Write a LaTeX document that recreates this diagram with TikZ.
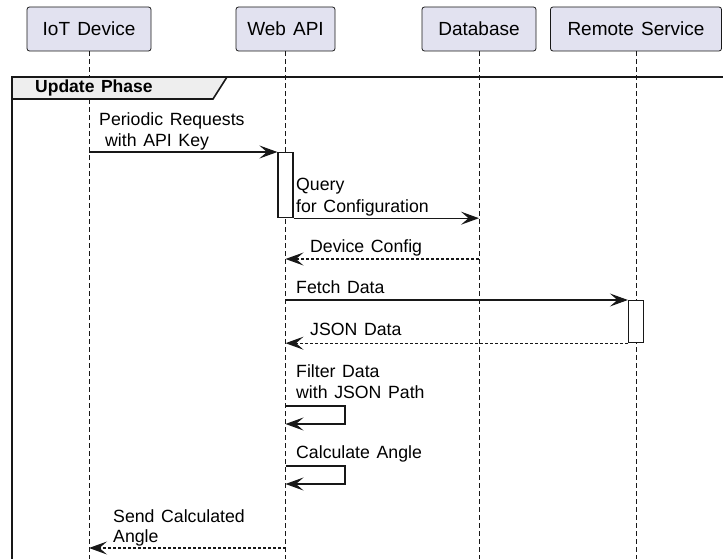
\documentclass[tikz,border=0pt]{standalone}
\usepackage{fontspec}
\setmainfont[WordSpace={1.35}]{Liberation Sans}
\usetikzlibrary{arrows.meta}
\definecolor{partfill}{HTML}{E2E2F0}
\definecolor{tabfill}{HTML}{EEEEEE}
\definecolor{ink}{HTML}{181818}
\begin{document}
\begin{tikzpicture}[x=1pt,y=-1pt,
  part/.style={draw=ink, fill=partfill, rounded corners=2.5pt, line width=0.8pt,
    minimum height=44pt, inner sep=0pt, font=\fontsize{19}{22}\selectfont},
  life/.style={draw=ink, line width=0.6pt, dash pattern=on 5pt off 3pt},
  act/.style={draw=ink, fill=white, line width=1.2pt, inner sep=0pt, minimum width=15pt},
  msg/.style={draw=ink, line width=1.2pt, -{Stealth[length=18pt,width=13pt,inset=7.5pt]}},
  reply/.style={msg, dash pattern=on 3pt off 2pt},
  lbl/.style={font=\fontsize{17.7}{21}\selectfont, inner sep=0pt, anchor=base west},
  grp/.style={draw=ink, line width=1.6pt}
]
\useasboundingbox (0,0) rectangle (723,559);

% participants
\node[part, minimum width=124pt] (iot) at (89,29)    {IoT Device};
\node[part, minimum width=99pt]  (api) at (285.5,29) {Web API};
\node[part, minimum width=114pt] (db)  at (479,29)   {Database};
\node[part, minimum width=171pt] (rem) at (636,29)   {Remote Service};

% lifelines
\foreach \p in {iot,api,db,rem}
  \draw[life] (\p.south) -- (\p |- 0,562);

% group frame with its tab
\filldraw[grp, fill=tabfill] (12,77) -- (227,77) -- (213,99) -- (12,99) -- cycle;
\draw[grp] (726,77) -- (12,77) -- (12,562);
\node[font=\bfseries\fontsize{17.5}{20}\selectfont, inner sep=0pt, anchor=base west] (grplbl) at (35,93) {Update Phase};

% activation bars
\node[act, minimum height=65pt, anchor=north] (actA) at (285.5,152) {};
\node[act, minimum height=42pt, anchor=north] (actR) at (636,300) {};

% request from the device
\node[lbl] (t1a) at (99,126) {Periodic Requests};
\node[lbl] (t1b) at (105,147) {with API Key};
\draw[msg] (iot |- actA.north) -- (actA.north west);

% configuration lookup
\node[lbl] (t2a) at (296,190) {Query};
\node[lbl] (t2b) at (296,212) {for Configuration};
\draw[msg] (actA.south east) -- (db |- actA.south);

\coordinate (y3) at (0,259);
\node[lbl] (t3) at (310,252) {Device Config};
\draw[reply] (db |- y3) -- (api |- y3);

% remote data
\node[lbl] (t4) at (296,293) {Fetch Data};
\draw[msg] (api |- actR.north) -- (actR.north west);

\node[lbl] (t5) at (310,335) {JSON Data};
\draw[reply] (actR.south west) -- (api |- actR.south);

% local processing
\coordinate (s1) at (0,406);
\node[lbl] (t6a) at (296,377) {Filter Data};
\node[lbl] (t6b) at (296,398) {with JSON Path};
\draw[msg] (api |- s1) -- ++(59.5,0) -- ++(0,18) -- ++(-59.5,0);

\coordinate (s2) at (0,466);
\node[lbl] (t7) at (296,458) {Calculate Angle};
\draw[msg] (api |- s2) -- ++(59.5,0) -- ++(0,18) -- ++(-59.5,0);

% answer to the device
\coordinate (y8) at (0,548);
\node[lbl] (t8a) at (113,522) {Send Calculated};
\node[lbl] (t8b) at (113,542) {Angle};
\draw[reply] (api |- y8) -- (iot |- y8);
\end{tikzpicture}
\end{document}
